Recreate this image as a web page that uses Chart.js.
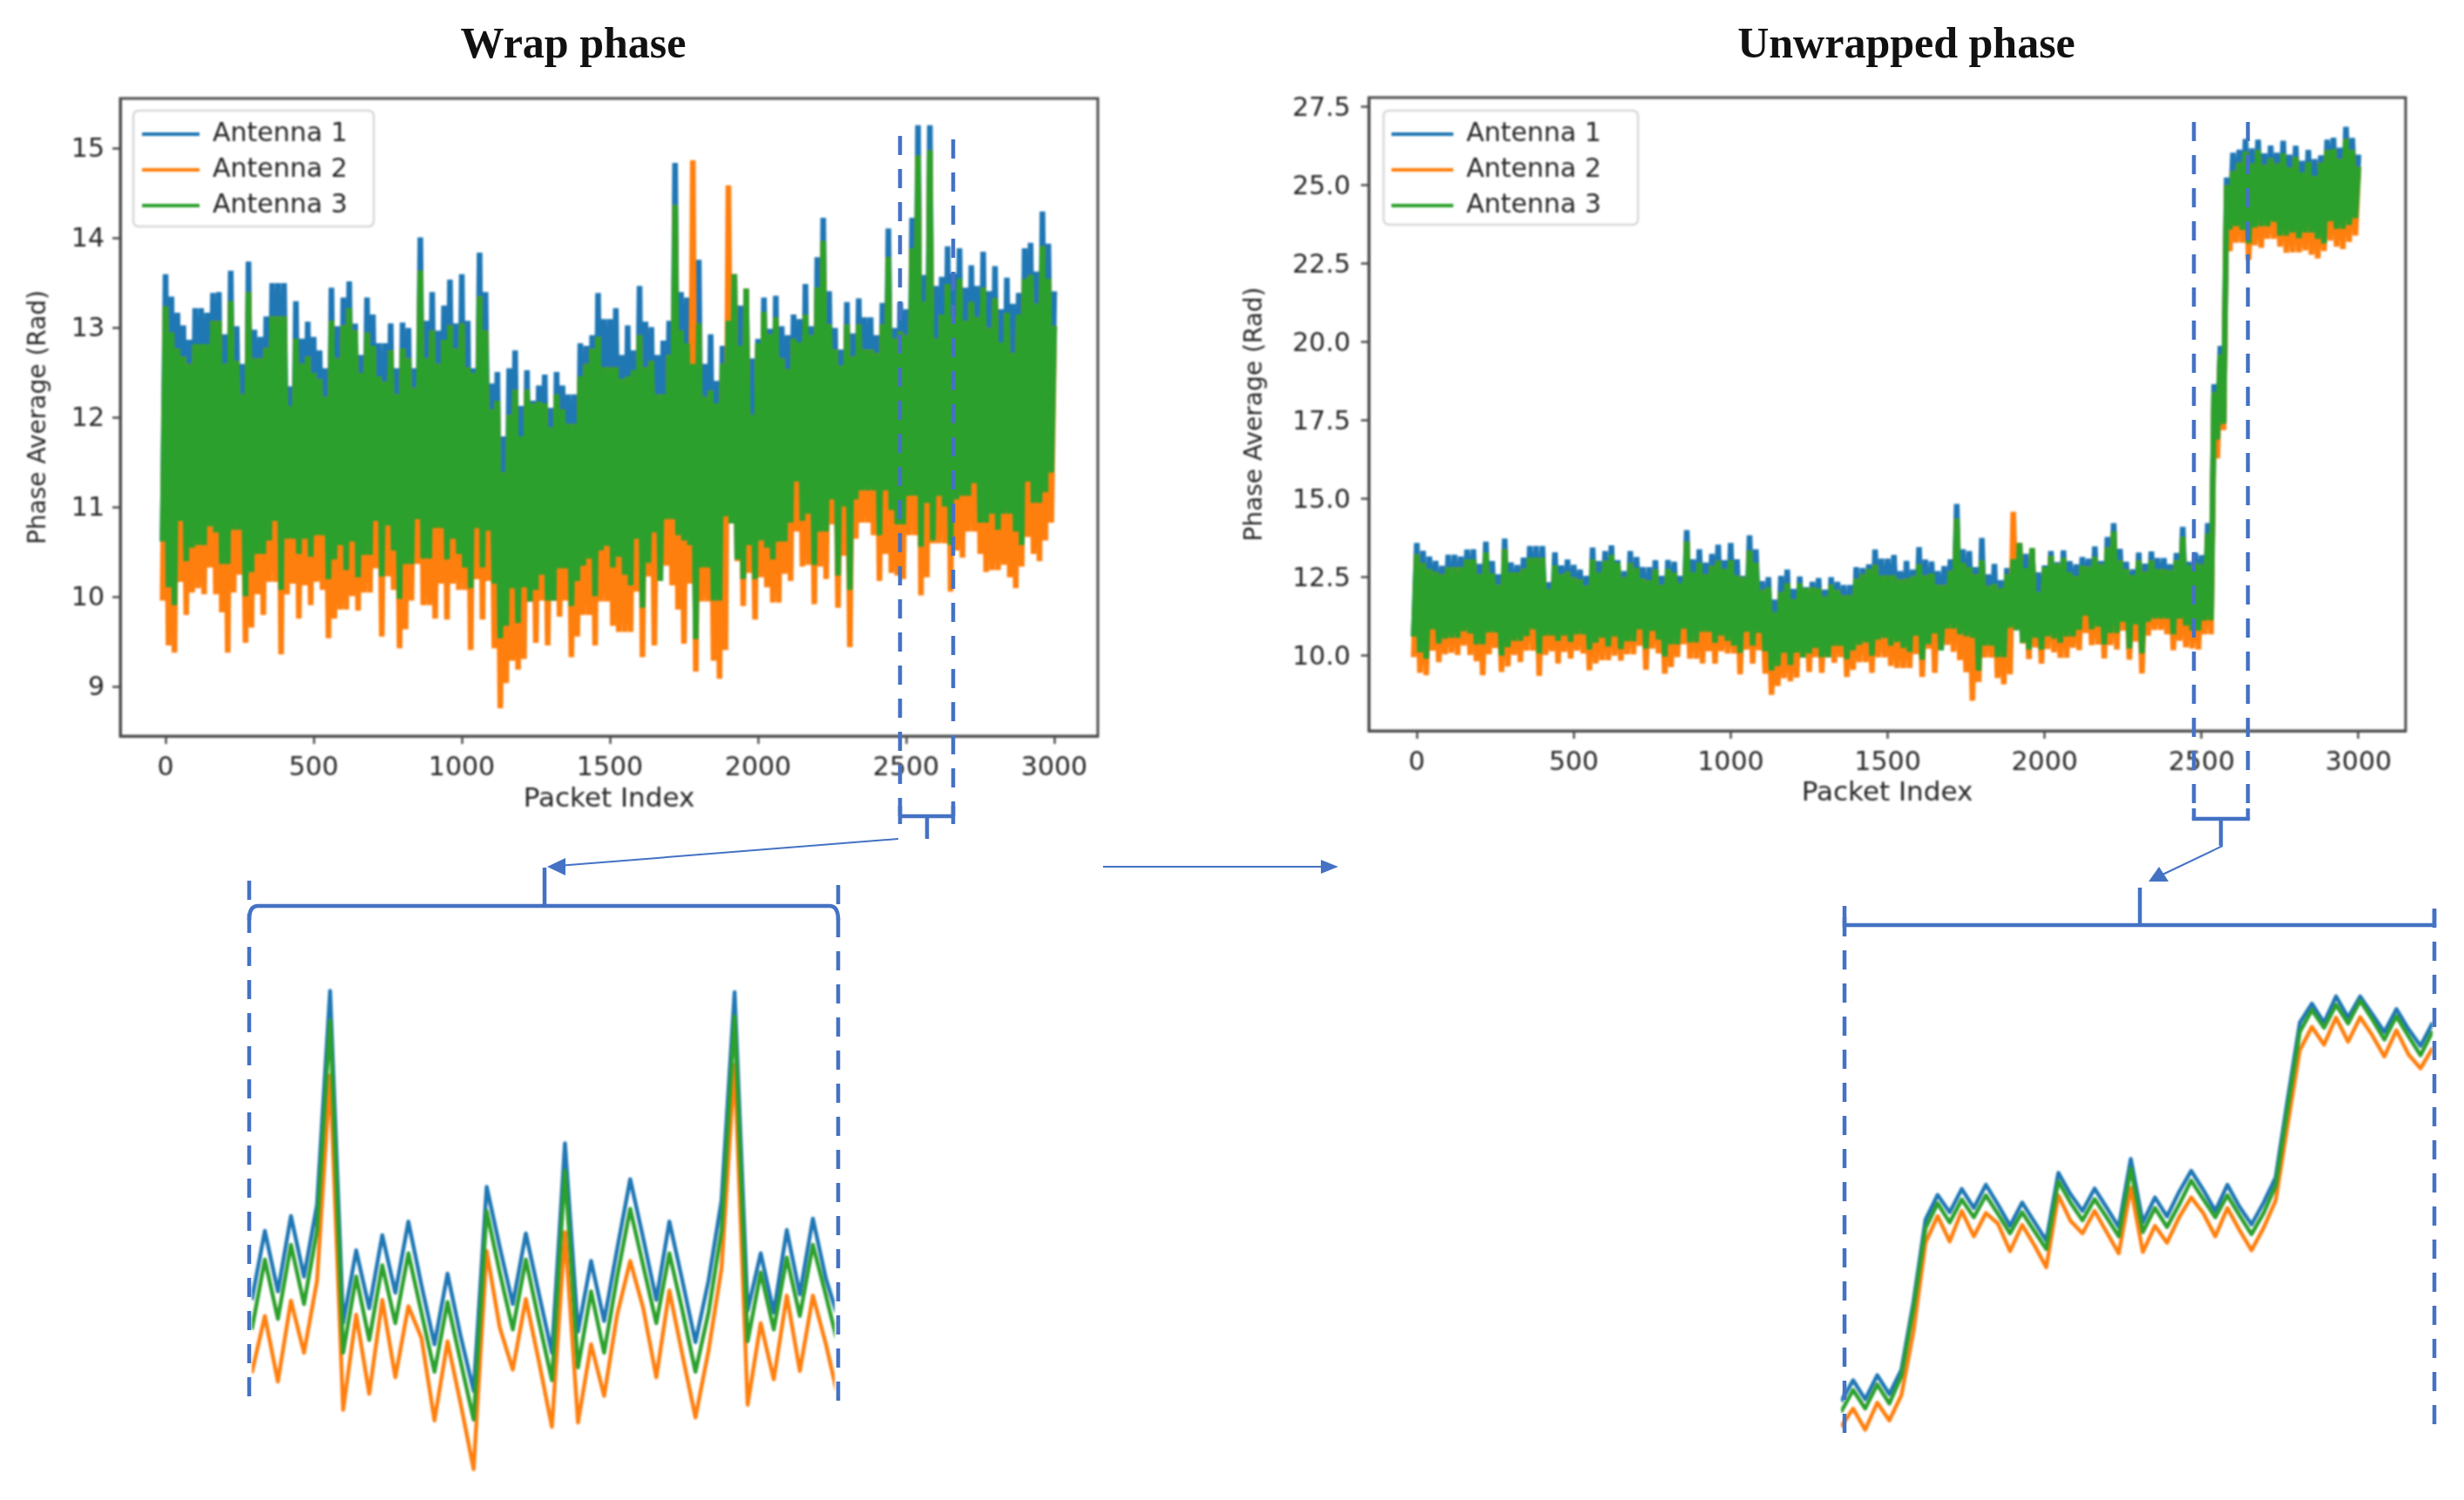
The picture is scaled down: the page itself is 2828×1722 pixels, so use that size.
<!DOCTYPE html>
<html>
<head>
<meta charset="utf-8">
<title>Wrap and unwrapped phase</title>
<style>
  html, body { margin: 0; background: #fff; }
  body { position: relative; width: 2828px; height: 1722px; overflow: hidden; }
  canvas, svg, .title { position: absolute; }
  canvas { filter: blur(0.8px); }
  .title { top: 20px; font: bold 50px "Liberation Serif", serif; color: #111; transform: translateX(-50%); white-space: nowrap; }
</style>
</head>
<body>
<div class="title" style="left:658px">Wrap phase</div>
<div class="title" style="left:2188px">Unwrapped phase</div>
<canvas id="wrapChart" style="left:0;top:100px" width="1290" height="860"></canvas>
<canvas id="unwrapChart" style="left:1400px;top:100px" width="1400" height="860"></canvas>
<canvas id="wrapZoom" style="left:289px;top:1106px" width="669" height="583"></canvas>
<canvas id="unwrapZoom" style="left:2113px;top:1106px" width="679" height="583"></canvas>

<svg width="2828" height="1722" style="left:0;top:0">
  <g fill="none" stroke="#4472c4" stroke-width="4.5">
    <g stroke-dasharray="22 16">
      <path d="M1033 156V937M1094 160V937"/>
      <path d="M286 1011V1604M962 1016V1609"/>
      <path d="M2518 140V940M2580 140V940"/>
      <path d="M2117 1053V1647M2794 1043V1635"/>
    </g>
    <path d="M1033 925V946M1033 937H1094M1094 925V946M1064 937V963"/>
    <path d="M2518 928V940H2580V928M2549 940V971"/>
    <path d="M286 1056Q286 1040 296 1040H952Q962 1040 962 1056M625 1040V996"/>
    <path d="M2117 1040V1062H2794V1044M2456 1062V1019"/>
  </g>
  <g stroke="#4472c4" stroke-width="2" fill="#4472c4">
    <path d="M1031 963L640 994"/>
    <path d="M628 995L649 985V1005Z" stroke="none"/>
    <path d="M2551 971L2482 1004"/>
    <path d="M2466 1012L2478 995L2489 1012Z" stroke="none"/>
    <path d="M1266 995H1520"/>
    <path d="M1536 995L1516 987V1003Z" stroke="none"/>
  </g>
</svg>

<script src="https://cdn.jsdelivr.net/npm/chart.js@4"></script>
<script>
const antennaNames = ['Antenna 1', 'Antenna 2', 'Antenna 3'];
const antennaColors = ['#1f77b4', '#ff7f0e', '#2ca02c'];

const packetTicks = [0, 500, 1000, 1500, 2000, 2500, 3000];
const wrapTicks = [9, 10, 11, 12, 13, 14, 15];
const unwrapTicks = [10, 12.5, 15, 17.5, 20, 22.5, 25, 27.5];

// highs and lows of the trace, one pair every 20 packets
const packetStep = 20;

const wrapBlueHigh = [
  13.60,13.35,13.17,13.03,12.87,13.22,13.22,13.17,13.39,13.40,12.93,13.64,13.02,12.60,13.74,12.98,12.90,13.13,13.50,13.50,13.50,12.35,13.30,12.88,13.07,12.90,12.75,12.55,13.45,13.02,13.34,13.52,13.05,12.70,13.34,13.15,12.83,12.83,13.05,12.55,13.06,13.00,12.55,14.01,13.08,13.40,12.97,13.25,13.54,13.05,13.60,
  13.08,12.55,13.84,13.40,12.38,12.51,11.79,12.55,12.75,12.13,12.53,12.19,12.36,12.48,12.11,12.51,12.36,12.26,12.26,12.83,12.80,12.92,13.39,13.10,13.10,13.22,12.70,13.03,12.75,13.47,13.07,13.01,12.70,12.86,13.08,14.84,13.40,13.34,12.83,13.76,12.60,12.93,12.41,12.80,13.10,13.60,13.25,13.42,12.66,12.88,13.34,12.99,
  13.36,13.02,12.92,13.15,13.10,13.49,13.02,13.79,14.23,13.41,13.00,12.76,13.29,12.94,13.33,13.12,13.12,12.92,13.28,14.11,13.00,13.29,13.21,14.23,15.26,13.59,15.26,13.47,13.57,13.91,13.61,13.89,13.45,13.70,13.47,13.85,13.41,13.69,13.21,13.56,13.27,13.39,13.89,13.95,13.63,14.30,13.94,13.41
];
const wrapGreenHigh = [
  13.24,12.95,12.77,12.68,12.60,12.82,12.82,12.82,13.08,13.08,12.60,13.30,12.63,12.26,13.40,12.66,12.66,12.78,13.13,13.13,13.13,12.13,12.88,12.60,12.68,12.50,12.43,12.23,13.08,12.66,13.03,13.22,12.97,12.50,12.95,12.80,12.46,12.40,12.75,12.26,12.77,12.66,12.33,13.64,12.66,12.97,12.60,12.87,13.03,12.77,13.05,
  12.56,12.50,13.35,12.97,12.09,12.19,11.39,12.03,12.31,11.79,12.31,12.16,12.18,12.16,11.89,12.26,12.09,11.93,11.93,12.46,12.60,12.77,12.90,12.56,12.56,12.56,12.43,12.46,12.53,12.92,12.56,12.63,12.26,12.26,12.70,14.37,12.97,12.83,12.60,13.05,12.23,12.30,12.16,12.60,13.08,13.60,12.80,13.44,12.03,12.83,13.18,12.93,
  13.12,12.66,12.54,12.88,12.84,13.15,12.92,13.45,13.97,13.04,12.76,12.58,13.04,12.68,13.04,12.76,12.76,12.72,13.04,13.79,12.88,12.96,12.92,13.89,14.92,13.29,14.98,12.88,13.15,13.49,13.12,13.55,13.08,13.29,13.12,13.45,13.00,13.33,12.84,13.17,12.72,13.15,13.55,13.59,13.27,13.91,13.55,13.02
];
const wrapGreenLow = [
  10.62,10.11,9.91,10.85,10.40,10.55,10.58,10.58,10.79,10.72,10.37,10.37,10.75,10.75,10.01,10.28,10.48,10.48,10.63,10.85,10.08,10.65,10.65,10.48,10.65,10.45,10.69,10.69,10.20,10.42,10.58,10.30,10.62,10.22,10.47,10.47,10.85,10.23,10.80,10.52,9.98,10.37,10.37,10.87,10.43,10.43,10.77,10.77,10.42,10.65,10.48,
  10.33,10.10,10.77,10.33,10.74,10.15,9.54,9.68,10.10,9.71,10.11,9.95,10.08,10.25,9.96,9.96,10.32,10.32,9.90,10.18,10.35,10.43,10.01,10.52,10.57,10.33,10.45,10.25,10.13,10.65,9.88,10.38,10.72,10.18,10.87,10.87,10.69,10.63,10.58,9.53,10.33,10.33,9.96,9.96,10.90,10.82,10.42,10.20,10.58,10.20,10.63,10.55,
  10.42,10.62,10.62,10.83,11.29,10.85,10.93,10.36,10.73,10.73,11.09,10.24,11.01,10.08,11.09,11.19,11.19,11.19,10.69,11.19,10.97,10.81,10.81,11.13,11.13,10.56,11.05,10.63,11.13,11.01,10.58,11.09,11.13,11.13,11.27,10.83,10.83,10.93,10.75,10.93,10.93,10.73,10.58,11.29,11.05,11.05,11.17,11.39
];
const wrapOrangeLow = [
  9.96,9.46,9.38,10.17,9.80,10.05,10.10,10.03,10.33,10.03,9.83,9.38,10.05,10.25,9.49,9.66,10.03,9.80,10.17,10.17,9.36,10.03,10.15,9.76,10.13,9.91,10.17,10.08,9.54,9.76,9.86,9.86,10.01,9.85,10.05,10.05,10.32,9.56,10.23,10.08,9.43,9.64,9.96,10.37,9.91,9.91,9.76,10.15,9.75,10.15,10.08,
  10.08,9.41,10.20,9.75,10.18,9.43,8.76,9.04,9.29,9.19,9.31,9.95,9.49,9.96,9.46,9.96,9.78,9.96,9.33,9.56,9.80,9.80,9.46,9.95,9.95,9.68,9.61,9.61,9.61,10.06,9.33,10.23,9.46,10.35,10.35,10.13,9.86,9.48,10.15,9.17,9.95,9.95,9.29,9.09,9.41,10.90,10.40,9.90,10.27,9.75,10.22,10.11,
  9.94,9.94,10.26,10.18,10.73,10.34,10.36,9.92,10.34,10.20,10.81,9.88,10.46,9.44,10.65,10.83,10.83,10.69,10.18,10.48,10.27,10.24,10.20,10.69,10.69,10.02,10.22,10.60,10.60,10.60,10.06,10.52,10.44,10.73,10.73,10.48,10.28,10.30,10.30,10.36,10.22,10.10,10.34,10.67,10.48,10.40,10.63,10.83
];
// orange only rises above the green band at these packets
const wrapOrangeSpikes = { 1780: 14.87, 1900: 14.59 };

const unwrapBlueHigh = [
  13.60,13.35,13.17,13.03,12.87,13.22,13.22,13.17,13.39,13.40,12.93,13.64,13.02,12.60,13.74,12.98,12.90,13.13,13.50,13.50,13.50,12.35,13.30,12.88,13.07,12.90,12.75,12.55,13.45,13.02,13.34,13.52,13.05,12.70,13.34,13.15,12.83,12.83,13.05,12.55,13.06,13.00,12.55,14.01,13.08,13.40,12.97,13.25,13.54,13.05,13.60,
  13.08,12.55,13.84,13.40,12.38,12.51,11.79,12.55,12.75,12.13,12.53,12.19,12.36,12.48,12.11,12.51,12.36,12.26,12.26,12.83,12.80,12.92,13.39,13.10,13.10,13.22,12.70,13.03,12.75,13.47,13.07,13.01,12.70,12.86,13.08,14.84,13.40,13.34,12.83,13.76,12.60,12.93,12.41,12.80,13.10,13.60,13.25,13.42,12.66,12.88,13.34,12.99,
  13.36,13.02,12.92,13.15,13.10,13.49,13.02,13.79,14.23,13.41,13.00,12.76,13.29,12.94,13.33,13.12,13.12,12.92,13.28,14.11,13.00,13.29,13.21,14.23,18.66,19.88,25.25,
  26.04,26.14,26.48,26.18,26.46,26.02,26.27,26.04,26.42,25.98,26.26,25.78,26.13,25.84,25.96,26.46,26.52,26.20,26.87,26.51,25.98
];
const unwrapGreenHigh = [
  13.24,12.95,12.77,12.68,12.60,12.82,12.82,12.82,13.08,13.08,12.60,13.30,12.63,12.26,13.40,12.66,12.66,12.78,13.13,13.13,13.13,12.13,12.88,12.60,12.68,12.50,12.43,12.23,13.08,12.66,13.03,13.22,12.97,12.50,12.95,12.80,12.46,12.40,12.75,12.26,12.77,12.66,12.33,13.64,12.66,12.97,12.60,12.87,13.03,12.77,13.05,
  12.56,12.50,13.35,12.97,12.09,12.19,11.39,12.03,12.31,11.79,12.31,12.16,12.18,12.16,11.89,12.26,12.09,11.93,11.93,12.46,12.60,12.77,12.90,12.56,12.56,12.56,12.43,12.46,12.53,12.92,12.56,12.63,12.26,12.26,12.70,14.37,12.97,12.83,12.60,13.05,12.23,12.30,12.16,12.60,13.08,13.60,12.80,13.44,12.03,12.83,13.18,12.93,
  13.12,12.66,12.54,12.88,12.84,13.15,12.92,13.45,13.97,13.04,12.76,12.58,13.04,12.68,13.04,12.76,12.76,12.72,13.04,13.79,12.88,12.96,12.92,13.89,18.40,19.60,25.00,
  25.45,25.72,26.06,25.69,26.12,25.65,25.86,25.69,26.02,25.57,25.90,25.41,25.74,25.29,25.72,26.12,26.16,25.84,26.48,26.12,25.59
];
const unwrapGreenLow = [
  10.62,10.11,9.91,10.85,10.40,10.55,10.58,10.58,10.79,10.72,10.37,10.37,10.75,10.75,10.01,10.28,10.48,10.48,10.63,10.85,10.08,10.65,10.65,10.48,10.65,10.45,10.69,10.69,10.20,10.42,10.58,10.30,10.62,10.22,10.47,10.47,10.85,10.23,10.80,10.52,9.98,10.37,10.37,10.87,10.43,10.43,10.77,10.77,10.42,10.65,10.48,
  10.33,10.10,10.77,10.33,10.74,10.15,9.54,9.68,10.10,9.71,10.11,9.95,10.08,10.25,9.96,9.96,10.32,10.32,9.90,10.18,10.35,10.43,10.01,10.52,10.57,10.33,10.45,10.25,10.13,10.65,9.88,10.38,10.72,10.18,10.87,10.87,10.69,10.63,10.58,9.53,10.33,10.33,9.96,9.96,10.90,10.82,10.42,10.20,10.58,10.20,10.63,10.55,
  10.42,10.62,10.62,10.83,11.29,10.85,10.93,10.36,10.73,10.73,11.09,10.24,11.01,10.08,11.09,11.19,11.19,11.19,10.69,11.19,10.97,10.81,10.81,11.13,11.13,16.90,17.40,
  23.60,23.70,23.58,23.15,23.66,23.70,23.70,23.84,23.40,23.40,23.50,23.32,23.50,23.50,23.30,23.15,23.86,23.62,23.62,23.74,23.96
];
const unwrapOrangeLow = [
  9.96,9.46,9.38,10.17,9.80,10.05,10.10,10.03,10.33,10.03,9.83,9.38,10.05,10.25,9.49,9.66,10.03,9.80,10.17,10.17,9.36,10.03,10.15,9.76,10.13,9.91,10.17,10.08,9.54,9.76,9.86,9.86,10.01,9.85,10.05,10.05,10.32,9.56,10.23,10.08,9.43,9.64,9.96,10.37,9.91,9.91,9.76,10.15,9.75,10.15,10.08,
  10.08,9.41,10.20,9.75,10.18,9.43,8.76,9.04,9.29,9.19,9.31,9.95,9.49,9.96,9.46,9.96,9.78,9.96,9.33,9.56,9.80,9.80,9.46,9.95,9.95,9.68,9.61,9.61,9.61,10.06,9.33,10.23,9.46,10.35,10.35,10.13,9.86,9.48,8.57,9.17,9.95,9.95,9.29,9.09,9.41,10.90,10.40,9.90,10.27,9.75,10.22,10.11,
  9.94,9.94,10.26,10.18,10.73,10.34,10.36,9.92,10.34,10.20,10.81,9.88,10.46,9.44,10.65,10.83,10.83,10.69,10.18,10.48,10.27,10.24,10.20,10.69,10.69,16.30,17.20,
  22.90,23.17,23.17,22.63,23.09,23.01,23.30,23.30,23.05,22.85,22.87,22.87,22.93,22.79,22.67,22.91,23.24,23.05,22.97,23.20,23.40
];
const unwrapOrangeSpikes = { 1900: 14.59 };

// zoomed panels have no axis, heights are relative to the bottom of the panel
const wrapZoomBlue = [4.05,5.68,4.25,6.03,4.60,6.30,11.35,3.50,5.22,3.85,5.58,4.22,5.90,4.40,3.00,4.67,3.20,1.90,6.72,5.30,3.95,5.62,4.20,2.80,7.75,3.30,4.97,3.55,5.25,6.90,5.50,4.05,5.90,4.50,3.05,4.50,6.40,11.32,3.80,5.15,3.75,5.70,4.18,5.97,4.55,3.55];
const wrapZoomOrange = [2.32,3.67,2.12,4.03,2.80,4.50,9.35,1.45,3.70,1.83,4.05,2.22,3.90,3.15,1.20,3.07,1.60,0.05,5.20,3.40,2.40,4.07,2.60,1.05,5.65,1.15,3.00,1.78,3.70,4.97,3.85,2.22,4.27,2.75,1.27,2.85,4.80,9.60,1.57,3.50,2.17,4.15,2.37,4.15,3.00,1.65];
const wrapZoomGreen = [3.35,5.00,3.60,5.35,3.95,5.70,10.65,2.80,4.60,3.10,4.87,3.50,5.15,3.75,2.35,4.00,2.60,1.22,6.15,4.70,3.35,5.00,3.55,2.15,7.10,2.45,4.25,2.80,4.60,6.20,4.85,3.50,5.15,3.80,2.35,3.75,5.70,10.75,3.07,4.70,3.35,5.05,3.67,5.35,4.15,2.90];
const unwrapZoomBlue = [1.65,2.15,1.70,2.27,1.82,2.40,4.00,5.95,6.53,6.12,6.67,6.22,6.77,6.30,5.80,6.35,5.90,5.45,7.05,6.55,6.15,6.68,6.23,5.77,7.38,5.88,6.47,6.02,6.60,7.10,6.65,6.15,6.77,6.25,5.83,6.35,6.95,8.80,10.60,11.05,10.60,11.22,10.72,11.22,10.80,10.38,10.92,10.45,10.05,10.60];
const unwrapZoomOrange = [1.05,1.48,0.98,1.62,1.20,1.80,3.30,5.40,6.03,5.43,6.15,5.55,6.10,5.85,5.20,5.82,5.35,4.82,6.52,5.92,5.62,6.15,5.65,5.15,6.70,5.18,5.80,5.40,6.00,6.47,6.10,5.55,6.22,5.70,5.22,5.75,6.40,8.20,9.95,10.50,10.08,10.72,10.15,10.73,10.30,9.80,10.42,9.85,9.52,10.00];
const unwrapZoomGreen = [1.40,1.92,1.48,2.05,1.60,2.25,3.85,5.75,6.33,5.88,6.42,6.00,6.52,6.08,5.62,6.12,5.68,5.25,6.85,6.35,5.93,6.43,6.00,5.55,7.15,5.65,6.22,5.77,6.30,6.87,6.43,6.00,6.52,6.05,5.60,6.10,6.75,8.60,10.38,10.90,10.48,11.02,10.58,11.12,10.68,10.20,10.75,10.28,9.83,10.40];

// the real trace swings up and down every couple of packets, so draw it as a zigzag
function zigzag(highs, lows) {
  const points = [];
  highs.forEach((high, i) => {
    points.push({ x: i * packetStep - packetStep / 2, y: lows[i] });
    points.push({ x: i * packetStep, y: high });
  });
  return points;
}

function withSpikes(highs, spikes) {
  return highs.map((high, i) => spikes[i * packetStep] || high);
}

const frameAndLegendBox = {
  id: 'frameAndLegendBox',
  afterLayout(chart) {
    const pad = chart.options.legendBox;
    chart.legend.left = chart.chartArea.left + pad.left;
    chart.legend.top = chart.chartArea.top + pad.top;
  },
  beforeDraw(chart) {
    const { ctx, chartArea } = chart;
    const box = chart.options.legendBox;
    ctx.save();
    ctx.strokeStyle = '#d8d8d8';
    ctx.lineWidth = 2.5;
    ctx.beginPath();
    ctx.roundRect(chartArea.left + box.x, chartArea.top + box.y, box.w, box.h, 6);
    ctx.stroke();
    ctx.restore();
  },
  afterDatasetsDraw(chart) {
    const { ctx, chartArea } = chart;
    ctx.save();
    ctx.strokeStyle = '#4d4d4d';
    ctx.lineWidth = 3;
    ctx.strokeRect(chartArea.left, chartArea.top, chartArea.right - chartArea.left, chartArea.bottom - chartArea.top);
    ctx.restore();
  }
};

function phaseChart(id, series, opts) {
  new Chart(document.getElementById(id), {
    type: 'line',
    plugins: [frameAndLegendBox],
    data: {
      datasets: series.map((points, i) => ({
        label: antennaNames[i],
        data: points,
        borderColor: antennaColors[i],
        backgroundColor: antennaColors[i],
        borderWidth: opts.lineWidth,
        borderJoinStyle: 'bevel',
        pointRadius: 0,
        order: [3, 2, 1][i]
      }))
    },
    options: {
      responsive: false,
      animation: false,
      devicePixelRatio: 1,
      legendBox: opts.legendBox,
      layout: { padding: opts.padding },
      plugins: {
        tooltip: { enabled: false },
        legend: {
          position: 'chartArea',
          align: 'start',
          labels: {
            boxWidth: opts.legendHandle,
            boxHeight: 4,
            padding: 11,
            color: '#262626',
            font: { family: 'DejaVu Sans', size: 30 },
            sort: (a, b) => a.datasetIndex - b.datasetIndex,
            generateLabels(chart) {
              return Chart.defaults.plugins.legend.labels.generateLabels(chart).map(item => ({ ...item, lineWidth: 0 }));
            }
          }
        }
      },
      scales: {
        x: {
          type: 'linear',
          min: opts.xMin,
          max: opts.xMax,
          afterFit(scale) {
            scale.height = opts.xAxisHeight;
            scale.paddingLeft = 0;
            scale.paddingRight = 0;
          },
          afterBuildTicks(scale) { scale.ticks = packetTicks.map(value => ({ value })); },
          border: { color: '#4d4d4d', width: 3 },
          grid: { drawOnChartArea: false, tickColor: '#4d4d4d', tickWidth: 2.5, tickLength: 9 },
          ticks: {
            autoSkip: false,
            maxRotation: 0,
            padding: 10,
            color: '#262626',
            font: { family: 'DejaVu Sans', size: 30 },
            callback: v => String(v)
          },
          title: {
            display: true,
            text: 'Packet Index',
            color: '#262626',
            font: { family: 'DejaVu Sans', size: 31 },
            padding: { top: 0, bottom: opts.xTitleBottom }
          }
        },
        y: {
          min: opts.yMin,
          max: opts.yMax,
          afterFit(scale) {
            scale.width = opts.yAxisWidth;
            scale.paddingTop = 0;
            scale.paddingBottom = 0;
          },
          afterBuildTicks(scale) { scale.ticks = opts.yTicks.map(value => ({ value })); },
          border: { color: '#4d4d4d', width: 3 },
          grid: { drawOnChartArea: false, tickColor: '#4d4d4d', tickWidth: 2.5, tickLength: 9 },
          ticks: {
            autoSkip: false,
            padding: opts.yTickPad,
            labelOffset: 2,
            color: '#262626',
            font: { family: 'DejaVu Sans', size: 30 },
            callback: opts.yFormat
          },
          title: {
            display: true,
            text: 'Phase Average (Rad)',
            color: '#262626',
            font: { family: 'DejaVu Sans', size: 28 },
            padding: { top: opts.yTitleLeft, bottom: 0 }
          }
        }
      }
    }
  });
}

phaseChart('wrapChart', [
  zigzag(wrapBlueHigh, wrapGreenLow),
  zigzag(withSpikes(wrapGreenHigh, wrapOrangeSpikes), wrapOrangeLow),
  zigzag(wrapGreenHigh, wrapGreenLow)
], {
  lineWidth: 6.5,
  padding: { top: 13, right: 30 },
  xMin: -153, xMax: 3147, yMin: 8.45, yMax: 15.56, yTicks: wrapTicks,
  yFormat: v => String(v),
  xAxisHeight: 115, yAxisWidth: 138, xTitleBottom: 23, yTitleLeft: 28, yTickPad: 9,
  legendHandle: 66,
  legendBox: { left: 14, top: 15, x: 15, y: 14, w: 276, h: 133 }
});

phaseChart('unwrapChart', [
  zigzag(unwrapBlueHigh, unwrapGreenLow),
  zigzag(withSpikes(unwrapGreenHigh, unwrapOrangeSpikes), unwrapOrangeLow),
  zigzag(unwrapGreenHigh, unwrapGreenLow)
], {
  lineWidth: 6.5,
  padding: { top: 12, right: 39 },
  xMin: -153, xMax: 3150, yMin: 7.61, yMax: 27.8, yTicks: unwrapTicks,
  yFormat: v => v.toFixed(1),
  xAxisHeight: 121, yAxisWidth: 171, xTitleBottom: 30, yTitleLeft: 24, yTickPad: 12,
  legendHandle: 71,
  legendBox: { left: 15, top: 16, x: 17, y: 15, w: 292, h: 131 }
});

function zoomChart(id, series, xMax) {
  new Chart(document.getElementById(id), {
    type: 'line',
    data: {
      labels: series[0].map((_, i) => i),
      datasets: series.map((values, i) => ({
        label: antennaNames[i],
        data: values,
        borderColor: antennaColors[i],
        borderWidth: 4.5,
        borderJoinStyle: 'round',
        pointRadius: 0,
        order: [3, 2, 1][i]
      }))
    },
    options: {
      responsive: false,
      animation: false,
      devicePixelRatio: 1,
      plugins: { legend: { display: false }, tooltip: { enabled: false } },
      scales: {
        x: { type: 'linear', display: false, min: 0, max: xMax },
        y: { display: false, min: 0, max: 12 }
      }
    }
  });
}

zoomChart('wrapZoom', [wrapZoomBlue, wrapZoomOrange, wrapZoomGreen], 44.67);
zoomChart('unwrapZoom', [unwrapZoomBlue, unwrapZoomOrange, unwrapZoomGreen], 49);
</script>
</body>
</html>
